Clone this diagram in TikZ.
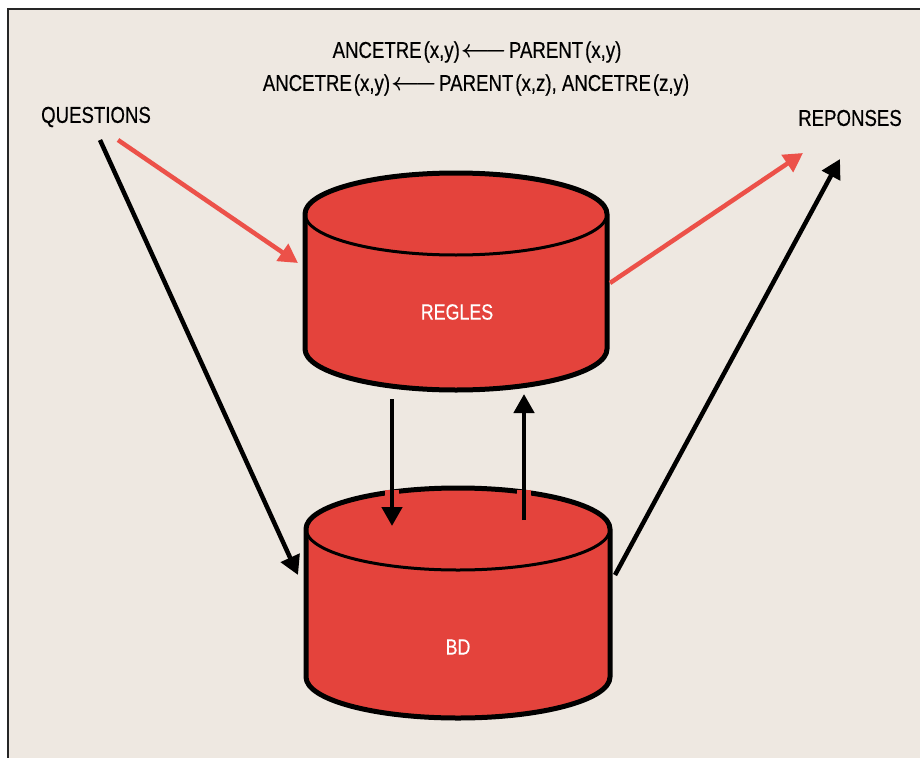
\documentclass[tikz,border=0pt]{standalone}
\usepackage{fontspec}
\setmainfont{Liberation Sans}[FakeStretch=0.81,FakeBold=0.4]
\usetikzlibrary{arrows.meta}
\definecolor{bgbeige}{HTML}{EEE8E1}
\definecolor{cylred}{HTML}{E4433C}
\definecolor{arrred}{HTML}{EC5149}
\newcommand{\rulearrow}{\kern1pt{\boldmath$\longleftarrow$}\kern2pt}
\tikzset{
  lbl/.style={inner sep=0pt, font=\fontsize{23}{26}\selectfont, text=black},
  cyllbl/.style={inner sep=0pt, font=\fontsize{22}{26}\selectfont, text=white},
  blkarrow/.style={line width=4.5pt, draw=black, -{Triangle[length=19pt,width=20pt]}},
  redarrow/.style={line width=4.5pt, draw=arrred, -{Triangle[length=19pt,width=20pt]}},
  cylbody/.style={fill=cylred, draw=black, line width=5pt, line join=round},
  cylrim/.style={draw=black, line width=3pt},
}
\begin{document}
\begin{tikzpicture}[x=1pt,y=1pt]
\useasboundingbox (0,0) rectangle (920,-757);
\fill[white] (0,0) rectangle (920,-757);
\fill[bgbeige] (8,-9) rectangle (925,-765);
\draw[line width=2pt, black!85] (8,-765) -- (8,-9) -- (925,-9);

% REGLES cylinder
\path[cylbody] (305,-214) -- (305,-349) arc[start angle=180,end angle=360,x radius=151,y radius=41]
  -- (607,-214) arc[start angle=0,end angle=180,x radius=151,y radius=41] -- cycle;
\draw[cylrim] (305,-214) arc[start angle=180,end angle=360,x radius=151,y radius=41];
% BD cylinder
\path[cylbody] (306,-529) -- (306,-677) arc[start angle=180,end angle=360,x radius=152,y radius=41]
  -- (610,-529) arc[start angle=0,end angle=180,x radius=152,y radius=41] -- cycle;
\draw[cylrim] (306,-529) arc[start angle=180,end angle=360,x radius=152,y radius=41];

\node[cyllbl] (regles) at (457,-312) {REGLES};
\node[cyllbl] (bd) at (458,-647) {BD};

\node[lbl] (rule1) at (477,-52) {ANCETRE\kern2pt(x,y)\rulearrow PARENT\kern2pt(x,y)};
\node[lbl] (rule2) at (476,-85) {ANCETRE\kern2pt(x,y)\rulearrow PARENT\kern2pt(x,z), ANCETRE\kern2pt(z,y)};
\node[lbl] (q) at (96,-117) {QUESTIONS};
\node[lbl] (r) at (850,-118) {REPONSES};

% connector end points
\coordinate (qRedS) at (118,-140);
\coordinate (reglesIn) at (298,-263);
\coordinate (qBlkS) at (100,-140);
\coordinate (bdIn) at (298,-575);
\coordinate (reglesOut) at (610,-283);
\coordinate (rRedE) at (803,-153);
\coordinate (bdOut) at (615,-575);
\coordinate (rBlkE) at (840,-159);
\coordinate (downS) at (392,-399);
\coordinate (downE) at (392,-526);
\coordinate (upS) at (524,-520);
\coordinate (upE) at (524,-394);

\draw[redarrow] (qRedS) -- (reglesIn);
\draw[blkarrow] (qBlkS) -- (bdIn);
\draw[redarrow] (reglesOut) -- (rRedE);
\draw[blkarrow] (bdOut) -- (rBlkE);
\draw[cylred, line width=14pt] (392,-489.5) -- (392,-500);
\draw[cylred, line width=14pt] (524,-489.5) -- (524,-500);
\draw[blkarrow] (downS) -- (downE);
\draw[blkarrow] (upS) -- (upE);
\end{tikzpicture}
\end{document}
